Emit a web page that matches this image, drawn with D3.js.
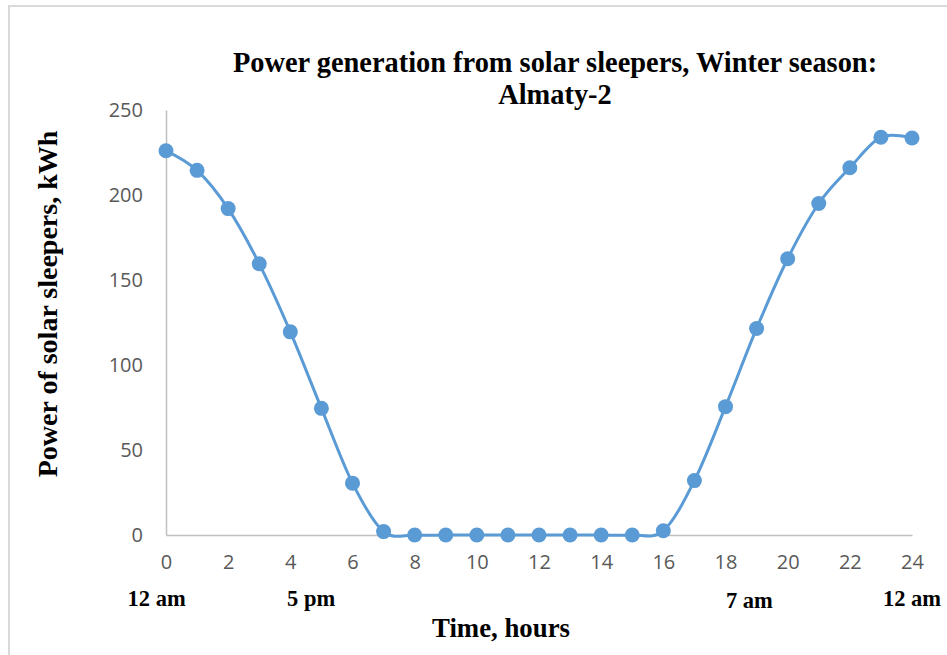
<!DOCTYPE html>
<html>
<head>
<meta charset="utf-8">
<script src="https://cdn.jsdelivr.net/npm/d3@7"></script>
<style>
  html, body { margin: 0; padding: 0; background: #fff; }
  svg { display: block; }
</style>
</head>
<body>
<svg id="chart" width="947" height="655"></svg>
<script>
// Hourly power output of solar sleepers over a winter day (kWh)
const hours = [0, 1, 2, 3, 4, 5, 6, 7, 8, 9, 10, 11, 12, 13, 14, 15, 16, 17, 18, 19, 20, 21, 22, 23, 24];
const power = [226, 214.5, 192, 159.5, 119.5, 74.5, 30.5, 2, 0, 0, 0, 0, 0, 0, 0, 0, 2.5, 32, 75.5, 121.5, 162.5, 195, 216, 234, 233.5];

const xTicks = [0, 2, 4, 6, 8, 10, 12, 14, 16, 18, 20, 22, 24];
const yTicks = [0, 50, 100, 150, 200, 250];

// Clock-time annotations under the hour axis
const clockLabels = ["12 am", "5 pm", "7 am", "12 am"];
const clockAt = [-0.3, 4.67, 18.77, 24];
const clockDrop = [0, 0, 2, 0];

const titleLines = ["Power generation from solar sleepers, Winter season:", "Almaty-2"];
const xTitle = "Time, hours";
const yTitle = "Power of solar sleepers, kWh";

const svg = d3.select("#chart");
const serif = "'Liberation Serif', 'Times New Roman', serif";
const sans = "'Open Sans', 'Noto Sans', sans-serif";
const blue = "#5B9BD5";

// Chart frame
svg.append("rect")
  .attr("x", 9).attr("y", 6)
  .attr("width", 1000).attr("height", 1000)
  .attr("fill", "none").attr("stroke", "#D9D9D9").attr("stroke-width", 2);

const x = d3.scaleLinear().domain([0, 24]).range([166, 912]);
const y = d3.scaleLinear().domain([0, 250]).range([535, 110]);

// Y axis
const yAxis = svg.append("g").attr("transform", `translate(${x(0)},0)`)
  .call(d3.axisLeft(y).tickValues(yTicks).tickSize(0).tickPadding(23));
yAxis.select(".domain").attr("stroke", "#BFBFBF").attr("stroke-width", 1.5);
yAxis.selectAll("text").attr("font-family", sans).attr("font-size", 20).attr("fill", "#595959");

// X axis
const xAxis = svg.append("g").attr("transform", `translate(0,${y(0)})`)
  .call(d3.axisBottom(x).tickValues(xTicks).tickSize(0).tickPadding(20));
xAxis.select(".domain").attr("stroke", "#BFBFBF").attr("stroke-width", 1.5);
xAxis.selectAll("text").attr("font-family", sans).attr("font-size", 20).attr("fill", "#595959");

// Smoothed series line
const line = d3.line()
  .x((d, i) => x(hours[i]))
  .y(d => y(d))
  .curve(d3.curveCatmullRom.alpha(0));
svg.append("path")
  .datum(power)
  .attr("d", line)
  .attr("fill", "none")
  .attr("stroke", blue)
  .attr("stroke-width", 3)
  .attr("stroke-linecap", "round");

svg.append("g").selectAll("circle")
  .data(power)
  .join("circle")
  .attr("cx", (d, i) => x(hours[i]))
  .attr("cy", d => y(d))
  .attr("r", 7.5)
  .attr("fill", blue);

// Clock-time labels
svg.append("g").selectAll("text")
  .data(clockLabels)
  .join("text")
  .attr("x", (d, i) => x(clockAt[i]))
  .attr("y", (d, i) => 606 + clockDrop[i])
  .attr("text-anchor", "middle")
  .attr("font-family", serif).attr("font-weight", "bold").attr("font-size", 22.5)
  .attr("fill", "#000")
  .text(d => d);

// Titles
svg.append("g").selectAll("text")
  .data(titleLines)
  .join("text")
  .attr("x", 555)
  .attr("y", (d, i) => 72 + i * 32)
  .attr("text-anchor", "middle")
  .attr("font-family", serif).attr("font-weight", "bold").attr("font-size", 28.4)
  .attr("fill", "#000")
  .text(d => d);

svg.append("text")
  .attr("x", 501).attr("y", 637)
  .attr("text-anchor", "middle")
  .attr("font-family", serif).attr("font-weight", "bold").attr("font-size", 26.8)
  .text(xTitle);

svg.append("text")
  .attr("transform", "translate(57,304) rotate(-90)")
  .attr("text-anchor", "middle")
  .attr("font-family", serif).attr("font-weight", "bold").attr("font-size", 28)
  .text(yTitle);
</script>
</body>
</html>
